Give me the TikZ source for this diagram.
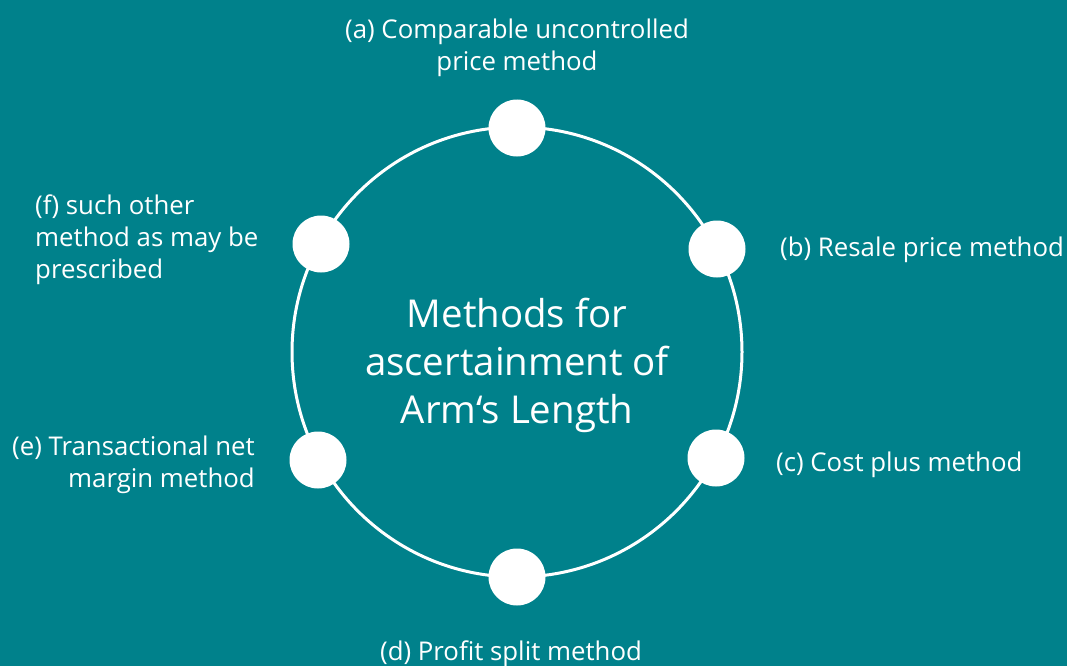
\documentclass[tikz,border=0pt]{standalone}
\usepackage{fontspec}
\setmainfont{Open Sans}
\definecolor{bgteal}{HTML}{00818B}
\begin{document}
\begin{tikzpicture}[x=1pt,y=-1pt,
  dot/.style={circle,fill=white,inner sep=0pt,minimum size=57pt},
  lbl/.style={text=white,font=\fontsize{25.8}{32}\selectfont,inner sep=0pt},
  title/.style={text=white,font=\fontsize{38.4}{48}\selectfont,align=center,inner sep=0pt}]
\fill[bgteal] (0,0) rectangle (1067,666);
\useasboundingbox (0,0) rectangle (1067,666);
\node[draw=white,line width=3pt,circle,minimum size=450pt,inner sep=0pt] (ring) at (517,352) {};
\node[dot] (da) at (517,128) {};
\node[dot] (db) at (717,249) {};
\node[dot] (dc) at (716,458) {};
\node[dot] (dd) at (517,577) {};
\node[dot] (de) at (318,460) {};
\node[dot] (df) at (321,244) {};
\node[title] (t) at (517,365) {Methods for\\ascertainment of\\Arm‘s Length};
\node[lbl,align=center] (la) at (517,48) {(a) Comparable uncontrolled\\price method};
\node[lbl,anchor=west] (lb) at (780,250) {(b) Resale price method};
\node[lbl,anchor=west] (lc) at (776,465) {(c) Cost plus method};
\node[lbl] (ld) at (511,654) {(d) Profit split method};
\node[lbl,align=right,anchor=east] (le) at (255,465) {(e) Transactional net\\margin method};
\node[lbl,align=left,anchor=west] (lf) at (35,240) {(f) such other\\method as may be\\prescribed};
\end{tikzpicture}
\end{document}
